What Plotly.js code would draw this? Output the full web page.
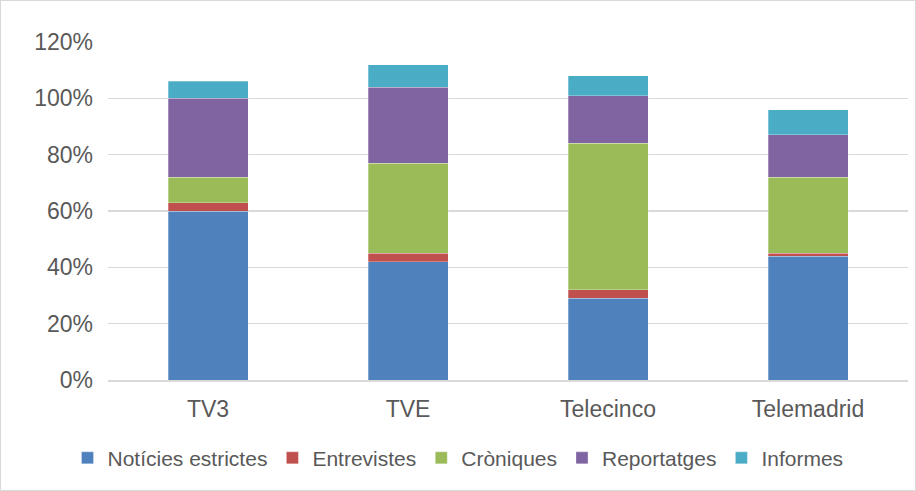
<!DOCTYPE html>
<html>
<head>
<meta charset="utf-8">
<script src="https://cdn.plot.ly/plotly-3.0.1.min.js"></script>
<style>
    html, body { margin: 0; padding: 0; background: #fff; }
    #chart { width: 914px; height: 489px; border: 1px solid #d9d9d9; }
</style>
</head>
<body>
<div id="chart"></div>
<script>
// Data (percent)
const channels = ['TV3', 'TVE', 'Telecinco', 'Telemadrid'];
const noticies = [60, 42, 29, 44];
const entrevistes = [3, 3, 3, 1];
const croniques = [9, 32, 52, 27];
const reportatges = [28, 27, 17, 15];
const informes = [6, 8, 7, 9];

const seriesNames = ['Notícies estrictes', 'Entrevistes', 'Cròniques', 'Reportatges', 'Informes'];
const seriesValues = [noticies, entrevistes, croniques, reportatges, informes];
const seriesColors = ['#4F81BD', '#C0504D', '#9BBB59', '#8064A2', '#4BACC6'];

const traces = seriesNames.map((name, i) => ({
    type: 'bar',
    name: name,
    x: channels,
    y: seriesValues[i],
    marker: {
        color: seriesColors[i],
        line: { color: 'rgba(255,255,255,0.35)', width: 0.8 }
    },
    hovertemplate: `${name}: %{y}%<extra></extra>`
}));

const layout = {
    barmode: 'stack',
    bargap: 0.6,
    width: 914,
    height: 489,
    paper_bgcolor: '#ffffff',
    plot_bgcolor: '#ffffff',
    font: { family: 'Liberation Sans, Arial, sans-serif', size: 23, color: '#595959' },
    margin: { t: 41, l: 107, r: 7, b: 110 },
    xaxis: {
        showgrid: false,
        showline: true,
        linecolor: '#d9d9d9',
        linewidth: 1.5,
        ticks: '',
        ticklabelstandoff: 8,
        tickfont: { size: 23, color: '#595959' }
    },
    yaxis: {
        range: [0, 120],
        dtick: 20,
        ticksuffix: '%',
        showgrid: true,
        gridcolor: '#d9d9d9',
        gridwidth: 1.5,
        zeroline: false,
        showline: false,
        ticks: '',
        ticklen: 0,
        ticklabelstandoff: 14,
        tickfont: { size: 23, color: '#595959' }
    },
    legend: {
        orientation: 'h',
        traceorder: 'normal',
        x: 0.5,
        xanchor: 'center',
        xref: 'container',
        y: 0.065,
        yanchor: 'middle',
        yref: 'container',
        font: { size: 21, color: '#595959' },
        itemwidth: 30,
        tracegroupgap: 0
    },
    showlegend: true
};

Plotly.newPlot('chart', traces, layout, { displayModeBar: false, staticPlot: true });
</script>
</body>
</html>
